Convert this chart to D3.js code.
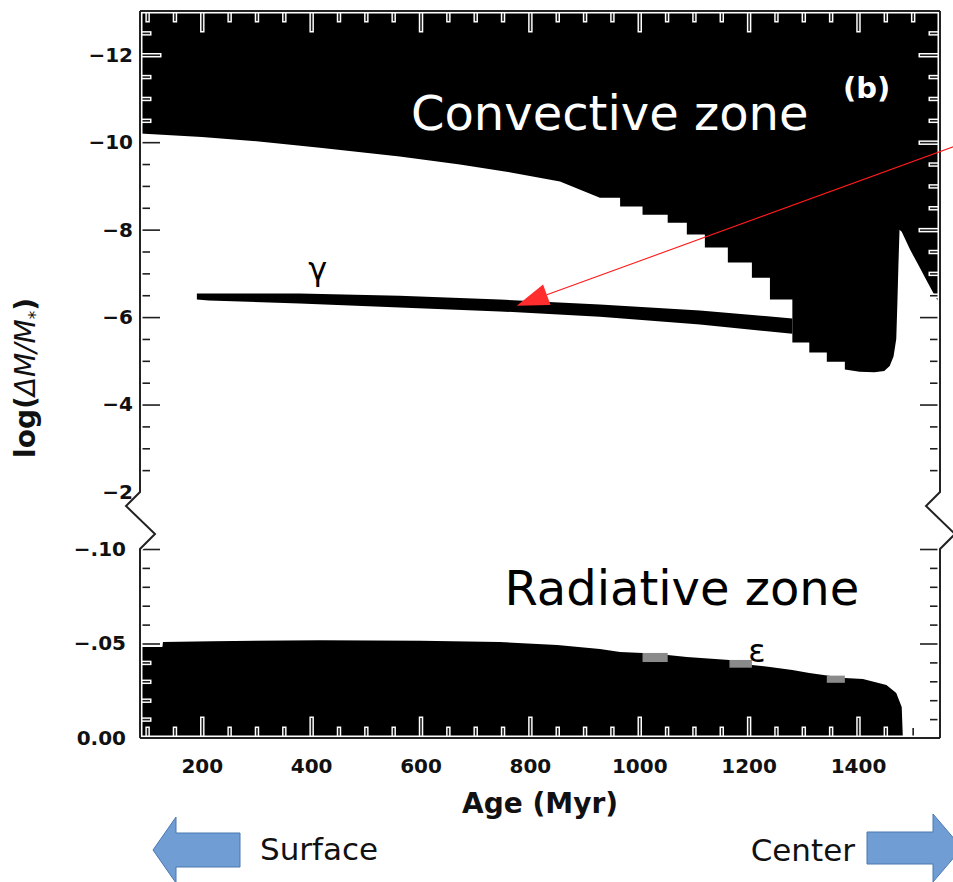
<!DOCTYPE html>
<html>
<head>
<meta charset="utf-8">
<script src="https://cdn.jsdelivr.net/npm/d3@7"></script>
<style>
  body { margin: 0; background: #fff; }
  text { font-family: "DejaVu Sans", sans-serif; }
</style>
</head>
<body>
<svg id="chart"></svg>
<script>
// ---- data ----
// x: age in Myr, upper panel: log(dM/M*), lower panel: fraction below the surface

// ticks
const ageMajor = [200, 400, 600, 800, 1000, 1200, 1400];
const ageMinor = [100, 150, 250, 300, 350, 450, 500, 550, 650, 700, 750, 850, 900, 950,
                  1050, 1100, 1150, 1250, 1300, 1350, 1450, 1500, 1550];
const logMajor = [-12, -10, -8, -6, -4, -2];
const logLabels = ["\u221212", "\u221210", "\u22128", "\u22126", "\u22124", "\u22122"];
const logMinor = [-12.5, -11.5, -11, -10.5, -9.5, -9, -8.5, -7.5, -7, -6.5, -5.5, -5, -4.5, -3.5, -3, -2.5];
const fracMajor = [-0.10, -0.05, 0.00];
const fracLabels = ["\u2212.10", "\u2212.05", "0.00"];
const fracMinor = [-0.09, -0.08, -0.07, -0.06, -0.04, -0.03, -0.02, -0.01];

// lower edge of the surface convective zone (steps where the model grid is coarse)
const convEdge = [
  [87, -10.20], [200, -10.12], [300, -10.02], [416, -9.87], [562, -9.67], [672, -9.49],
  [760, -9.32], [855, -9.10], [928, -8.73],
  [965, -8.73], [965, -8.53], [1006, -8.53], [1006, -8.34], [1052, -8.34], [1052, -8.16],
  [1087, -8.16], [1087, -7.89], [1120, -7.89], [1120, -7.59], [1162, -7.59], [1162, -7.25],
  [1206, -7.25], [1206, -6.90], [1239, -6.90], [1239, -6.40], [1280, -6.40],
  [1280, -5.42], [1311, -5.42], [1311, -5.19], [1343, -5.19], [1343, -4.98], [1376, -4.98],
  [1376, -4.80], [1403, -4.75], [1430, -4.74], [1448, -4.77], [1458, -4.88], [1465, -5.10],
  [1470, -5.50], [1472, -6.30], [1474, -7.20], [1476, -8.00], [1480, -7.95], [1495, -7.55],
  [1510, -7.20], [1525, -6.85], [1540, -6.50], [1550, -6.30]
];

// thin convective layer "gamma"
const gammaAge = [191, 213, 379, 562, 745, 928, 1111, 1280];
const gammaTop = [-6.54, -6.54, -6.54, -6.49, -6.40, -6.29, -6.15, -5.97];
const gammaBot = [-6.40, -6.38, -6.31, -6.22, -6.13, -6.01, -5.83, -5.62];

// top of the convective core, lower panel
const coreEdge = [
  [87, -0.0481], [128, -0.0481], [129, -0.0508], [220, -0.0512], [416, -0.0517], [600, -0.0515],
  [745, -0.0508], [850, -0.0492], [928, -0.0471], [965, -0.0455], [1006, -0.0450], [1052, -0.0439],
  [1087, -0.0429], [1165, -0.0413], [1206, -0.0386], [1239, -0.0376], [1280, -0.0360],
  [1311, -0.0344], [1376, -0.0317], [1409, -0.0312], [1452, -0.0280], [1470, -0.0238],
  [1480, -0.0164], [1482, -0.0005], [1482, 0]
];

// grey "epsilon" cells on the core edge: [age0, age1, top, bottom]
const epsCells = [
  [1006, 1052, -0.0450, -0.0402],
  [1165, 1206, -0.0413, -0.0372],
  [1343, 1376, -0.0330, -0.0292]
];

// ---- layout ----
const width = 953, height = 882;
const plotL = 140, plotR = 940, plotT = 11, plotB = 738;

const svg = d3.select('#chart').attr('width', width).attr('height', height);

const x = d3.scaleLinear().domain([87, 1550]).range([plotL, plotR]);
const yTop = d3.scaleLinear().domain([-13, -2]).range([plotT, 492]);
const yBot = d3.scaleLinear().domain([-0.10, 0]).range([549, plotB]);

// ---- zones ----
const convArea = d3.area()
  .x(d => x(d[0]))
  .y0(yTop(-13))
  .y1(d => yTop(d[1]));

svg.append('path')
  .datum(convEdge)
  .attr('d', convArea)
  .attr('fill', '#000');

const gamma = gammaAge.map((a, i) => [a, gammaTop[i], gammaBot[i]]);
svg.append('path')
  .datum(gamma)
  .attr('d', d3.area().x(d => x(d[0])).y0(d => yTop(d[1])).y1(d => yTop(d[2])))
  .attr('fill', '#000');

svg.append('path')
  .datum(coreEdge)
  .attr('d', d3.area().x(d => x(d[0])).y0(yBot(0)).y1(d => yBot(d[1])))
  .attr('fill', '#000');

svg.selectAll('rect.eps')
  .data(epsCells)
  .enter()
  .append('rect')
  .attr('class', 'eps')
  .attr('x', d => x(d[0]))
  .attr('width', d => x(d[1]) - x(d[0]))
  .attr('y', d => yBot(d[2]))
  .attr('height', d => yBot(d[3]) - yBot(d[2]))
  .attr('fill', '#8a8a8a');

// ---- ticks (inward, with a white halo so they show up inside the black zones) ----
const tickSets = [
  [d3.axisBottom, x, ageMinor, 10, 0, plotB],
  [d3.axisBottom, x, ageMajor, 20, 0, plotB],
  [d3.axisTop, x, ageMinor, 10, 0, plotT],
  [d3.axisTop, x, ageMajor, 20, 0, plotT],
  [d3.axisLeft, yTop, logMinor, 10, plotL, 0],
  [d3.axisLeft, yTop, logMajor.slice(0, 5), 20, plotL, 0],
  [d3.axisRight, yTop, logMinor, 10, plotR, 0],
  [d3.axisRight, yTop, logMajor.slice(0, 5), 20, plotR, 0],
  [d3.axisLeft, yBot, fracMinor, 10, plotL, 0],
  [d3.axisLeft, yBot, fracMajor, 20, plotL, 0],
  [d3.axisRight, yBot, fracMinor, 10, plotR, 0],
  [d3.axisRight, yBot, fracMajor, 20, plotR, 0]
];

[['#fff', 4.5, 1.5], ['#1e1e1e', 1.6, 0]].forEach(([col, sw, extra]) => {
  tickSets.forEach(([make, scale, vals, size, tx, ty]) => {
    const g = svg.append('g')
      .attr('transform', 'translate(' + tx + ',' + ty + ')')
      .call(make(scale).tickValues(vals).tickSize(-(size + extra)).tickSizeOuter(0).tickFormat(''));
    g.select('.domain').remove();
    g.selectAll('line').attr('stroke', col).attr('stroke-width', sw);
  });
});

// ---- frame with the axis breaks ----
const zig = (xx) => [[xx, yTop(-2)], [xx - 14, 506], [xx + 15, 534], [xx, 549]];
const frame = d3.path();
frame.moveTo(plotL, plotT); frame.lineTo(plotR, plotT);
frame.moveTo(plotL, plotB); frame.lineTo(plotR, plotB);
[plotL, plotR].forEach(xx => {
  frame.moveTo(xx, plotT);
  zig(xx).forEach(p => frame.lineTo(p[0], p[1]));
  frame.lineTo(xx, plotB);
});
svg.append('path').attr('d', frame.toString()).attr('fill', 'none')
  .attr('stroke', '#fff').attr('stroke-width', 5);
svg.append('path').attr('d', frame.toString()).attr('fill', 'none')
  .attr('stroke', '#222').attr('stroke-width', 2).attr('stroke-linejoin', 'miter');

// ---- tick labels ----
const labelFont = g => g.selectAll('text')
  .attr('font-family', 'DejaVu Sans').attr('font-weight', 'bold')
  .attr('font-size', 20).attr('fill', '#111');

const xl = svg.append('g').attr('transform', 'translate(0,' + plotB + ')')
  .call(d3.axisBottom(x).tickValues(ageMajor).tickSize(0).tickPadding(21)
    .tickFormat(d3.format('d')));
xl.select('.domain').remove();
labelFont(xl);

const yl1 = svg.append('g').attr('transform', 'translate(' + plotL + ',0)')
  .call(d3.axisLeft(yTop).tickValues(logMajor).tickSize(0).tickPadding(7)
    .tickFormat((d, i) => logLabels[i]));
yl1.select('.domain').remove();
labelFont(yl1);

const yl2 = svg.append('g').attr('transform', 'translate(' + plotL + ',0)')
  .call(d3.axisLeft(yBot).tickValues(fracMajor).tickSize(0).tickPadding(14)
    .tickFormat((d, i) => fracLabels[i]));
yl2.select('.domain').remove();
labelFont(yl2);

// axis titles
svg.append('text')
  .attr('x', (plotL + plotR) / 2).attr('y', 813)
  .attr('text-anchor', 'middle')
  .attr('font-weight', 'bold').attr('font-size', 28).attr('fill', '#111')
  .text('Age (Myr)');

const yt = svg.append('text')
  .attr('transform', 'translate(35,378) rotate(-90)')
  .attr('text-anchor', 'middle').attr('font-size', 28).attr('fill', '#111');
yt.append('tspan').attr('font-weight', 'bold').text('log(');
yt.append('tspan').attr('font-style', 'italic').text('\u0394M/M');
yt.append('tspan').attr('font-size', 17).attr('dy', 6).text('*');
yt.append('tspan').attr('font-weight', 'bold').attr('dy', -6).text(')');

// ---- annotations ----
svg.append('text')
  .attr('x', x(946)).attr('y', yTop(-10.29))
  .attr('text-anchor', 'middle')
  .attr('font-family', 'Open Sans').attr('font-size', 48).attr('fill', '#fff')
  .text('Convective zone');

svg.append('text')
  .attr('x', x(1416)).attr('y', yTop(-11.0))
  .attr('text-anchor', 'middle')
  .attr('font-weight', 'bold').attr('font-size', 29).attr('fill', '#fff')
  .text('(b)');

svg.append('text')
  .attr('x', x(1078)).attr('y', yBot(-0.0704))
  .attr('text-anchor', 'middle')
  .attr('font-family', 'Open Sans').attr('font-size', 48).attr('fill', '#000')
  .text('Radiative zone');

svg.append('text')
  .attr('x', x(412)).attr('y', yTop(-6.84))
  .attr('text-anchor', 'middle')
  .attr('font-family', 'Liberation Serif').attr('font-size', 32).attr('fill', '#000')
  .text('\u03b3');

svg.append('text')
  .attr('x', x(1215)).attr('y', yBot(-0.0402))
  .attr('text-anchor', 'middle')
  .attr('font-family', 'Liberation Serif').attr('font-size', 32).attr('fill', '#000')
  .text('\u03b5');

// red pointer onto the gamma layer
const tail = [x(1582), yTop(-9.93)];
const tip = [x(776), yTop(-6.26)];
const ang = Math.atan2(tip[1] - tail[1], tip[0] - tail[0]);
const headLen = 32, headHalf = 11;
const base = [tip[0] - headLen * Math.cos(ang), tip[1] - headLen * Math.sin(ang)];
svg.append('line')
  .attr('x1', tail[0]).attr('y1', tail[1]).attr('x2', base[0]).attr('y2', base[1])
  .attr('stroke', '#ff1a1a').attr('stroke-width', 1.1);
svg.append('path')
  .attr('d', d3.line()([
    tip,
    [base[0] + headHalf * Math.sin(ang), base[1] - headHalf * Math.cos(ang)],
    [base[0] - headHalf * Math.sin(ang), base[1] + headHalf * Math.cos(ang)]
  ]) + 'Z')
  .attr('fill', '#ff2d2d');

// Surface / Center block arrows under the chart
const blockArrow = (tipX, headX, tailX, cy, headH, bodyH) => d3.line()([
  [tipX, cy], [headX, cy - headH], [headX, cy - bodyH], [tailX, cy - bodyH],
  [tailX, cy + bodyH], [headX, cy + bodyH], [headX, cy + headH]
]) + 'Z';

svg.append('path')
  .attr('d', blockArrow(153, 176, 240, 850, 33, 17))
  .attr('fill', '#6f9dd4').attr('stroke', '#4a78b0').attr('stroke-width', 1);
svg.append('path')
  .attr('d', blockArrow(962, 933, 867, 848, 34, 16))
  .attr('fill', '#6f9dd4').attr('stroke', '#4a78b0').attr('stroke-width', 1);

svg.append('text')
  .attr('x', 260).attr('y', 860)
  .attr('font-family', 'Open Sans').attr('font-size', 31).attr('fill', '#111')
  .text('Surface');
svg.append('text')
  .attr('x', 855).attr('y', 861)
  .attr('text-anchor', 'end')
  .attr('font-family', 'Open Sans').attr('font-size', 31).attr('fill', '#111')
  .text('Center');
</script>
</body>
</html>
